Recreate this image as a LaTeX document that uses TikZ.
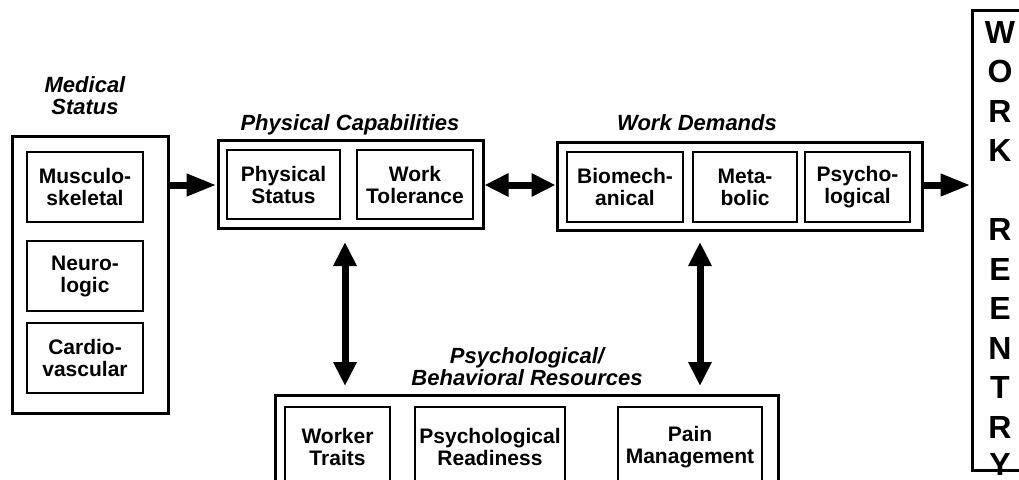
\documentclass[tikz,border=0pt]{standalone}
\usepackage{fontspec}
\setmainfont{Liberation Sans}
\usetikzlibrary{arrows.meta}
\begin{document}
\begin{tikzpicture}[x=1pt,y=-1pt,
  outer/.style={draw, line width=3pt, inner sep=0pt},
  inbox/.style={draw, line width=1.5pt, inner sep=0pt, align=center, font=\fontsize{21}{22}\selectfont\bfseries},
  ttl/.style={align=center, inner sep=0pt, font=\fontsize{22}{22}\selectfont\bfseries\itshape},
  letter/.style={inner sep=0pt, font=\fontsize{32}{32}\selectfont\bfseries},
  fat/.style={line width=7pt, -{Triangle[length=30pt,width=21pt]}},
  fatboth/.style={line width=7pt, {Triangle[length=24pt,width=22pt]}-{Triangle[length=24pt,width=22pt]}},
]
\clip (0,0) rectangle (1019,479);
\fill[white] (0,0) rectangle (1019,479);

% Medical status
\node[ttl] (medt) at (85,96) {Medical\\Status};
\node[outer, minimum width=156pt, minimum height=277pt] (med) at (90,274.5) {};
\node[inbox, minimum width=116pt, minimum height=70pt] (musc) at (85,187) {Musculo-\\skeletal};
\node[inbox, minimum width=116pt, minimum height=70pt] (neuro) at (85,276) {Neuro-\\logic};
\node[inbox, minimum width=116pt, minimum height=70pt] (cardio) at (85,358) {Cardio-\\vascular};

% Physical capabilities
\node[ttl] (physt) at (350,125) {Physical Capabilities};
\node[outer, minimum width=265pt, minimum height=88pt] (phys) at (350.5,184) {};
\node[inbox, minimum width=113pt, minimum height=69pt] (pstat) at (283.5,184.5) {Physical\\Status};
\node[inbox, minimum width=116pt, minimum height=69pt] (wtol) at (415,184.5) {Work\\Tolerance};

% Work demands
\node[ttl] (wdt) at (697,123) {Work Demands};
\node[outer, minimum width=365pt, minimum height=88pt] (wd) at (739.5,186) {};
\node[inbox, minimum width=116pt, minimum height=70pt] (bio) at (625,187) {Biomech-\\anical};
\node[inbox, minimum width=104pt, minimum height=70pt] (meta) at (745,187) {Meta-\\bolic};
\node[inbox, minimum width=105pt, minimum height=70pt] (psy) at (857.5,187) {Psycho-\\logical};

% Psychological / behavioral resources
\node[ttl] (pbt) at (527,367) {Psychological/\\Behavioral Resources};
\node[outer, minimum width=503pt, minimum height=110pt] (pb) at (526.5,450) {};
\node[inbox, minimum width=105pt, minimum height=80pt] (wtr) at (337.5,447) {Worker\\Traits};
\node[inbox, minimum width=150pt, minimum height=80pt] (pread) at (490,447) {Psychological\\Readiness};
\node[inbox, minimum width=144pt, minimum height=80pt] (pain) at (690,447) {Pain\\Management};

% Work reentry
\node[outer, minimum width=48pt, minimum height=460pt] (wr) at (996,240) {};
\foreach \l/\yy in {W/32,O/71.5,R/111,K/150.5,R/229.5,E/269,E/308.5,N/348,T/387.5,R/427,Y/464}
  \node[letter] at (1000,\yy) {\l};

% Connectors
\coordinate (row) at (0,185);
\draw[fat] (med.east |- row) -- (phys.west |- row);
\draw[fatboth] (phys.east |- row) -- (wd.west |- row);
\draw[fat] (wd.east |- row) -- (wr.west |- row);

\coordinate (la) at (345,242);
\coordinate (lb) at (345,386);
\coordinate (ra) at (700,242);
\coordinate (rb) at (700,386);
\draw[fatboth] (la) -- (lb);
\draw[fatboth] (ra) -- (rb);
\end{tikzpicture}
\end{document}
